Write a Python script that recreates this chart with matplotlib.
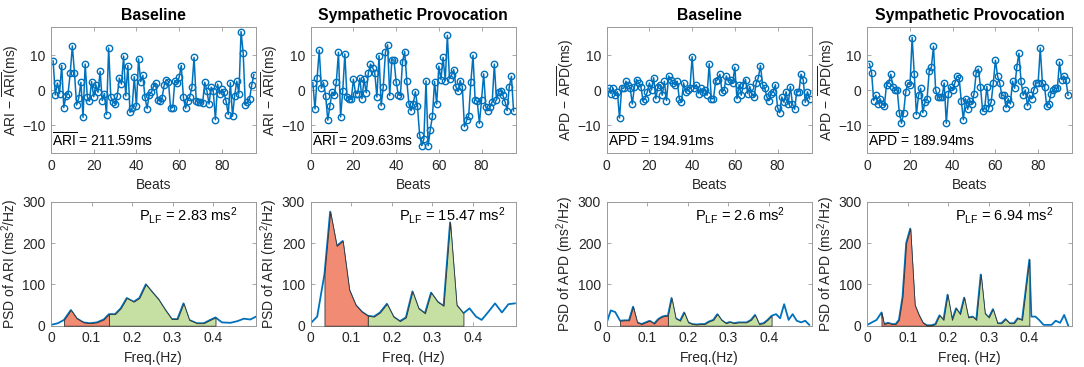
import numpy as np
import matplotlib
matplotlib.use("Agg")
import matplotlib.pyplot as plt

plt.rcParams['font.family'] = ['Liberation Sans', 'DejaVu Sans']
plt.rcParams['mathtext.fontset'] = 'custom'
plt.rcParams['mathtext.rm'] = 'Liberation Sans'
plt.rcParams['mathtext.it'] = 'Liberation Sans:italic'

# ---------------- data: beat-to-beat deviations (ms) ----------------
ari_base = [8.3, -1.4, 2, -1, 7, -5, -1.7, -1, 4.8, 12.6, 4.8, -4.3, -2.3, 2.2, -7.8, 7.4,
            -1.9, -3.2, 2.4, -1.9, 1.5, -0.7, 5.3, -3, -1, -7, 12, -2, -3.3, -4, -1.8, 3.4,
            1.7, 9.7, -1.7, 7, -6.4, -5.1, 3.8, -4.6, 8.9, 2.4, 4.2, -2.1, -5.3, -1.3, -0.7,
            1.1, 1.9, -2.9, -3.2, -2.3, 1.4, 3, 2.4, -5.2, -5, 2.7, 1.9, 3.6, 7, -2.1, -5.2,
            -3, -1.9, 0.8, 9.3, -3, -3.5, -3.3, -3.7, 2.2, -0.2, -4, 0.8, -0.4, -8.5, 1.7,
            -1.1, 0.2, -0.7, -3.2, -7, 2.1, -7.5, -1.6, 2.5, -1, 16.7, 10.5, -4.2, -3.5,
            -2.5, 1.4, 4.4]
ari_symp = [2.1, -5.4, 3.4, 11.4, 0.5, 2.1, -1.6, -8.6, -4.5, -0.6, -1.5, 2.2, 10.8, -7.7,
            -0.3, 10.3, -2.1, -2.5, -2.7, 3.1, -1, -1, 3.4, -2.5, 3.1, -0.8, 4.9, 7.4, 6.4,
            4.9, -2, 9.8, -4.5, 1, 10.8, 12.9, -1.6, 8.6, 8.6, 2.4, -1.3, -1.6, 8, 11, 2.6,
            -4, -5.9, -4, -0.5, -4.6, -12.8, -15.9, -14, 2.6, -15.9, -11.3, -7.5, 2.4, -4,
            6.8, 3, 9.3, 2.7, 15.6, 3.2, 4.3, 5.8, 1, -0.4, 2.7, 0.9, -10.5, -8.7, -7.3,
            2.2, 9.9, -2.8, -3.2, -9.6, -2.9, 4.6, -4.9, -5.9, -4.8, -3.4, 7.4, -2.9, -0.5,
            -0.2, -1.5, -3.3, -5.9, 1, 3.9, -6]
apd_base = [0.5, -1, 0.5, -1.5, -0.5, -8, 0.5, 0.5, 2.5, 1.5, 0.5, -4, 1, 3, 2, 1, -3, -2.5,
            -0.5, 2, 0, 3.5, -2.5, 1, 1.5, -1.5, 2.5, -3, 4, 3, 2, 1.5, 2.5, -2.5, -3.5, 2,
            -0.5, 0, 0.5, 9.5, 0.5, 1.5, -1, 0.5, -0.5, 0, -1.5, 7.5, -2.5, -2.5, 2.5, 3, 4.5,
            -0.5, 0, 4, 2.5, 3, 2, 6.5, -2.5, 1.5, -1.5, 1.5, 3, -1, 1, -1, -2, 2, 3.5, 7,
            1.5, 0.5, -2, -3, -1, -0.5, 1.5, -5, -6.5, -2, -3.5, -0.5, -4, 1, -4, -5.5, -0.5,
            -0.5, 4.5, 3, -3.5, -0.5, -2.5]
apd_symp = [7.5, 5, -3, -1.5, -4, -2.5, -4, -4.5, 1.5, 2, 4.5, 1, 0, 0, -6.5, -9.5, -6.5,
            -0.5, 2, 1.5, 15, 4.5, -7, -1.5, 0.5, -6.5, -3.5, -2.5, 5.5, 6.5, 12.5, 0, -2, -2,
            -2, 2, -9.5, -1, 1, 0, 2, 4, 3.5, -3, -8.5, -2.5, -5.5, -3, -4, -1, 5, 6, 1, -6,
            -5, 1, -5, -3.5, 2, 8.5, 4, 2, -1.5, -1.5, -5, -2.5, -4, 2.5, 0.5, 6.5, 10.5, 2.5,
            -1.5, 0, -4.5, -1.5, -2.5, 0, 2, 2, 12, 2, 1, -4.5, -4, -1, 0, 0.5, 0.5, 8, 3, 4,
            3, -1.5]
mean_labels = ["211.59ms", "209.63ms", "194.91ms", "189.94ms"]

# ---------------- data: power spectral densities (ms^2/Hz) ----------------
f_ari_base = [0, 0.017, 0.032, 0.049, 0.063, 0.08, 0.096, 0.113, 0.13, 0.143, 0.158, 0.172,
              0.187, 0.204, 0.218, 0.234, 0.25, 0.265, 0.282, 0.298, 0.312, 0.327, 0.341, 0.36,
              0.377, 0.393, 0.406, 0.422, 0.443, 0.46, 0.476, 0.492, 0.506]
p_ari_base = [2, 6, 14, 38, 18, 8, 6, 8, 15, 28, 28, 42, 67, 58, 67, 100, 81, 64, 38, 16, 16,
              54, 14, 6, 6, 14, 20, 8, 7, 11, 17, 15, 22]
f_ari_symp = [0, 0.016, 0.034, 0.048, 0.064, 0.079, 0.095, 0.111, 0.126, 0.141, 0.156, 0.171,
              0.188, 0.204, 0.22, 0.235, 0.251, 0.266, 0.282, 0.297, 0.313, 0.328, 0.344, 0.36,
              0.377, 0.392, 0.408, 0.422, 0.439, 0.455, 0.472, 0.488, 0.504]
p_ari_symp = [6, 22, 125, 276, 193, 205, 87, 50, 34, 24, 22, 32, 53, 22, 11, 20, 83, 42, 30,
              80, 58, 48, 250, 50, 30, 42, 22, 14, 34, 54, 32, 52, 54]
f_apd_base = [0, 0.01, 0.021, 0.033, 0.044, 0.055, 0.065, 0.075, 0.086, 0.096, 0.106, 0.117,
              0.127, 0.137, 0.145, 0.151, 0.16, 0.17, 0.181, 0.191, 0.201, 0.211, 0.222, 0.232,
              0.242, 0.252, 0.263, 0.273, 0.283, 0.294, 0.304, 0.314, 0.325, 0.335, 0.345,
              0.356, 0.366, 0.376, 0.387, 0.397, 0.407, 0.418, 0.428, 0.438, 0.449, 0.459,
              0.469, 0.48, 0.49, 0.5]
p_apd_base = [7, 37, 33, 12, 13, 13, 46, 8, 4, 8, 12, 5, 16, 22, 24, 24, 67, 18, 12, 32, 8, 4,
              3, 4, 4, 10, 14, 28, 14, 6, 9, 6, 8, 8, 8, 14, 26, 4, 6, 14, 24, 28, 18, 52, 14,
              28, 12, 8, 12, 2]
f_apd_symp = [0, 0.015, 0.023, 0.035, 0.041, 0.051, 0.061, 0.07, 0.078, 0.087, 0.096, 0.106,
              0.117, 0.127, 0.137, 0.147, 0.158, 0.168, 0.178, 0.188, 0.198, 0.209, 0.219,
              0.229, 0.239, 0.249, 0.26, 0.269, 0.28, 0.29, 0.3, 0.31, 0.321, 0.331, 0.341,
              0.351, 0.362, 0.371, 0.382, 0.4, 0.405, 0.415, 0.424, 0.435, 0.445, 0.455, 0.465,
              0.476, 0.486, 0.496]
p_apd_symp = [2, 10, 14, 32, 4, 7, 4, 4, 14, 70, 200, 235, 50, 26, 7, 1, 1, 4, 25, 14, 75, 14,
              42, 28, 68, 20, 22, 14, 124, 30, 20, 40, 6, 6, 16, 6, 6, 18, 14, 160, 22, 22, 14,
              2, 2, 2, 12, 7, 26, 0]
# LF band start, LF/HF split, HF end (Hz)
bands = [(0.032, 0.143, 0.406), (0.034, 0.141, 0.377), (0.033, 0.151, 0.407), (0.035, 0.147, 0.4)]
plf_values = ["2.83", "15.47", "2.6", "6.94"]

titles = ["Baseline", "Sympathetic Provocation", "Baseline", "Sympathetic Provocation"]
quant = ["ARI", "ARI", "APD", "APD"]
freq_labels = ["Freq.(Hz)", "Freq. (Hz)", "Freq.(Hz)", "Freq. (Hz)"]

series = [ari_base, ari_symp, apd_base, apd_symp]
freqs = [f_ari_base, f_ari_symp, f_apd_base, f_apd_symp]
psds = [p_ari_base, p_ari_symp, p_apd_base, p_apd_symp]

# ---------------- figure ----------------
W, H = 1084, 367
fig = plt.figure(figsize=(W / 100, H / 100), dpi=100)
lefts = [51, 310.7, 606.7, 867.3]
axw = 205
BLUE = '#0072BD'
RED = '#F28B74'
GREEN = '#C6E0A4'
AXC = '#262626'

def style(ax):
    for s in ax.spines.values():
        s.set_color('#999999')
        s.set_linewidth(0.7)
    ax.tick_params(direction='in', length=3, width=0.6, color='#999999',
                   labelcolor=AXC, labelsize=10, top=True, right=True,
                   labeltop=False, labelright=False, pad=4)

for i in range(4):
    # top row: time series
    ax = fig.add_axes([lefts[i] / W, 1 - 153 / H, axw / W, 126 / H])
    y = np.array(series[i])
    x = np.arange(1, len(y) + 1)
    ax.plot(x, y, '-o', color=BLUE, lw=1.1, ms=4.6, mfc='none', mew=1.0)
    ax.set_xlim(0, 96)
    ax.set_ylim(-18, 18)
    ax.set_xticks([0, 20, 40, 60, 80])
    ax.set_yticks([-10, 0, 10])
    style(ax)
    q = quant[i]
    ax.set_title(titles[i], fontsize=11.3, fontweight='bold', pad=5, color='black')
    ax.set_xlabel('Beats', fontsize=10, color=AXC, labelpad=4)
    ax.set_ylabel(q + r'$\,-\,\overline{\mathrm{' + q + r'}}$(ms)', fontsize=10,
                  color=AXC, labelpad=1)
    ax.text(0.005, 0.03, r'$\overline{\mathrm{' + q + r'}}$ = ' + mean_labels[i],
            transform=ax.transAxes, fontsize=10, color='black', ha='left', va='bottom')

    # bottom row: PSD
    ax2 = fig.add_axes([lefts[i] / W, 1 - 325.7 / H, axw / W, 124 / H])
    f = np.array(freqs[i])
    p = np.array(psds[i])
    a, b, c = bands[i]
    ax2.plot(f, p, color=BLUE, lw=1.3, zorder=2)
    m1 = (f >= a - 1e-9) & (f <= b + 1e-9)
    m2 = (f >= b - 1e-9) & (f <= c + 1e-9)
    ax2.fill_between(f[m1], 0, p[m1], facecolor=RED, edgecolor='#333333', lw=0.6, zorder=3)
    ax2.fill_between(f[m2], 0, p[m2], facecolor=GREEN, edgecolor='#333333', lw=0.6, zorder=3)
    ax2.set_xlim(0, 0.506)
    ax2.set_ylim(0, 300)
    ax2.set_xticks([0, 0.1, 0.2, 0.3, 0.4])
    ax2.set_xticklabels(['0', '0.1', '0.2', '0.3', '0.4'])
    ax2.set_yticks([0, 100, 200, 300])
    style(ax2)
    ax2.set_xlabel(freq_labels[i], fontsize=10, color=AXC, labelpad=4)
    ax2.set_ylabel('PSD of ' + q + r' (ms$^2$/Hz)', fontsize=10, color=AXC, labelpad=1)
    ax2.text(0.43, 0.89, r'P$_{\mathrm{LF}}$ = ' + plf_values[i] + r' ms$^2$',
             transform=ax2.transAxes, fontsize=10.5, color='black', ha='left', va='center')

fig.savefig('out.png', dpi=100)
